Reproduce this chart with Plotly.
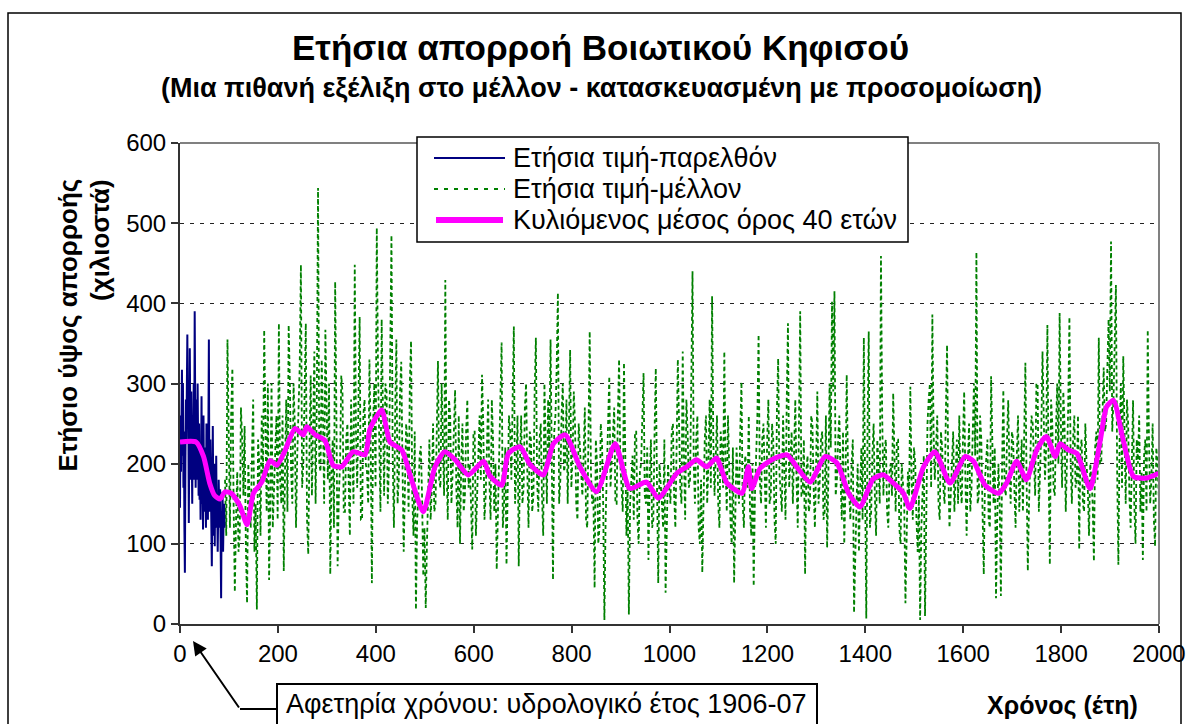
import plotly.graph_objects as go

# ---------------- data ----------------
past_values = [145, 260, 190, 290, 317, 210, 300, 170, 240, 120,
               64, 200, 280, 230, 320, 361, 250, 300, 126, 220,
               344, 260, 180, 290, 200, 150, 260, 210, 300, 180,
               390, 240, 170, 280, 200, 180, 300, 230, 160, 250,
               155, 210, 130, 190, 284, 150, 200, 118, 260, 170,
               140, 220, 180, 120, 250, 160, 200, 130, 300, 355,
               170, 140, 230, 180, 100, 72, 160, 247, 150, 110,
               200, 97, 180, 140, 210, 120, 160, 90, 130, 180,
               150, 120, 168, 100, 32, 140, 110, 165, 90, 130,
               150, 120]
past_years = list(range(0, len(past_values)))

# simulated future: values at years 92, 97, 102, ... (a) and 94.5, 99.5, ... (b)
future_values_a = [
    180, 355, 120, 319, 40, 190, 110, 230, 247, 26, 150, 210, 90, 18, 200, 260, 367, 140, 55, 300,
    170, 260, 375, 150, 66, 280, 373, 190, 300, 120, 260, 448, 200, 375, 87, 310, 230, 150, 544, 190,
    260, 367, 180, 62, 230, 427, 72, 200, 288, 140, 250, 110, 230, 448, 170, 383, 130, 280, 190, 330,
    51, 300, 494, 220, 380, 160, 290, 200, 485, 120, 355, 180, 327, 90, 250, 140, 353, 110, 18, 160,
    222, 60, 20, 180, 130, 250, 150, 328, 170, 240, 429, 130, 260, 190, 292, 120, 100, 250, 160, 280,
    200, 93, 240, 150, 260, 311, 130, 220, 180, 280, 140, 68, 200, 351, 150, 74, 260, 180, 371, 190,
    72, 260, 170, 300, 120, 230, 160, 357, 140, 250, 110, 200, 280, 355, 55, 260, 413, 180, 300, 200,
    150, 342, 210, 250, 130, 220, 160, 270, 120, 365, 150, 45, 200, 120, 230, 5, 180, 309, 200, 270,
    150, 330, 170, 326, 110, 12, 180, 130, 240, 100, 200, 313, 150, 80, 230, 130, 319, 51, 180, 120,
    39, 200, 150, 250, 120, 330, 170, 340, 130, 240, 180, 440, 150, 260, 100, 64, 230, 150, 280, 409,
    160, 260, 120, 220, 340, 140, 180, 100, 51, 220, 150, 302, 120, 200, 260, 110, 47, 200, 361, 150,
    250, 120, 280, 160, 230, 100, 331, 170, 260, 130, 375, 200, 150, 280, 120, 390, 160, 62, 210, 150,
    250, 120, 290, 180, 240, 140, 95, 300, 402, 415, 180, 260, 130, 100, 311, 160, 200, 14, 150, 90,
    220, 357, 7, 365, 140, 250, 110, 200, 459, 160, 230, 120, 200, 288, 140, 230, 100, 180, 26, 190,
    296, 130, 200, 90, 5, 180, 10, 250, 300, 386, 180, 260, 130, 220, 150, 348, 120, 200, 140, 230,
    260, 150, 290, 110, 250, 170, 300, 464, 160, 230, 62, 200, 130, 309, 150, 32, 200, 35, 292, 160,
    279, 150, 230, 120, 260, 180, 140, 326, 66, 200, 250, 160, 300, 200, 340, 180, 373, 74, 250, 160,
    300, 388, 170, 250, 200, 383, 150, 260, 180, 93, 230, 140, 200, 110, 180, 78, 240, 357, 200, 320,
    250, 380, 477, 280, 423, 74, 300, 334, 150, 250, 120, 279, 100, 200, 140, 80, 230, 367, 150, 250,
    97, 200]
future_values_b = [
    110, 200, 260, 150, 130, 90, 270, 160, 100, 200, 120, 280, 150, 230, 110, 180, 230, 300, 150, 120,
    240, 130, 180, 260, 190, 140, 300, 150, 250, 210, 320, 170, 290, 130, 220, 160, 340, 280, 200, 330,
    150, 240, 300, 190, 120, 260, 160, 310, 140, 230, 180, 280, 150, 240, 300, 130, 260, 200, 150, 230,
    250, 170, 320, 140, 260, 300, 150, 340, 210, 260, 150, 290, 200, 170, 230, 300, 160, 240, 130, 210,
    160, 120, 100, 230, 170, 140, 260, 180, 300, 160, 200, 280, 150, 230, 170, 260, 200, 140, 240, 170,
    150, 240, 110, 210, 180, 250, 160, 280, 130, 230, 200, 150, 270, 120, 220, 170, 240, 280, 150, 260,
    200, 150, 270, 190, 240, 140, 290, 180, 230, 160, 300, 150, 210, 170, 240, 320, 150, 260, 190, 280,
    240, 170, 290, 150, 250, 180, 210, 130, 240, 190, 160, 230, 100, 250, 150, 130, 260, 170, 240, 150,
    260, 200, 140, 230, 170, 150, 210, 240, 130, 190, 260, 160, 220, 180, 120, 240, 170, 200, 150, 230,
    130, 170, 240, 160, 220, 250, 150, 210, 280, 170, 300, 200, 230, 120, 180, 150, 260, 200, 170, 230,
    210, 150, 240, 170, 200, 260, 130, 220, 160, 180, 240, 150, 210, 170, 140, 200, 160, 260, 180, 230,
    180, 230, 150, 250, 130, 270, 190, 140, 210, 280, 170, 240, 220, 180, 250, 160, 230, 190, 140, 260,
    170, 200, 150, 230, 130, 260, 180, 220, 290, 160, 230, 180, 240, 170, 200, 130, 230, 100, 200, 170,
    130, 180, 240, 120, 210, 160, 230, 150, 260, 220, 140, 190, 160, 210, 230, 120, 200, 150, 120, 160,
    180, 220, 130, 160, 120, 210, 140, 280, 170, 240, 220, 150, 240, 170, 260, 190, 160, 240, 180, 150,
    170, 230, 180, 200, 140, 240, 210, 150, 260, 140, 180, 230, 120, 200, 220, 130, 150, 200, 170, 230,
    190, 240, 170, 210, 140, 230, 260, 180, 150, 260, 190, 300, 140, 240, 270, 220, 190, 280, 170, 240,
    200, 250, 290, 140, 270, 200, 230, 170, 260, 220, 150, 250, 170, 200, 150, 220, 180, 200, 270, 240,
    320, 290, 240, 350, 190, 230, 170, 240, 280, 160, 200, 150, 230, 260, 190, 210, 140, 230, 180, 130,
    220, 160]
future_start = 92
future_step = 5

future_years, future_values = [], []
for i, (va, vb) in enumerate(zip(future_values_a, future_values_b)):
    future_years += [future_start + future_step * i, future_start + future_step * i + future_step / 2]
    future_values += [va, vb]

ma_years = [0, 33, 48, 61, 71, 82, 92, 105, 122, 137, 150, 167, 184, 198, 215, 235, 252, 259, 276,
            296, 313, 330, 354, 378, 388, 412, 429, 453, 473, 497, 521, 541, 562, 589, 620, 633,
            657, 671, 695, 715, 742, 763, 787, 817, 851, 889, 919, 953, 977, 1015, 1035, 1055,
            1076, 1096, 1117, 1148, 1161, 1168, 1185, 1209, 1240, 1260, 1287, 1318, 1342, 1366,
            1389, 1416, 1437, 1457, 1478, 1491, 1519, 1542, 1573, 1604, 1621, 1645, 1672, 1689,
            1709, 1729, 1750, 1770, 1788, 1798, 1815, 1832, 1859, 1880, 1893, 1907, 1927, 1948,
            1975, 1999]
ma_values = [227, 227, 209, 175, 160, 156, 165, 163, 148, 124, 163, 177, 204, 198, 217, 244, 236, 246, 236,
             229, 198, 196, 215, 211, 243, 267, 227, 217, 180, 140, 196, 215, 205, 186, 203, 185,
             173, 213, 221, 199, 186, 225, 236, 196, 165, 225, 169, 177, 157, 188, 196, 205,
             196, 207, 176, 163, 196, 169, 194, 205, 211, 196, 177, 209, 201, 163,
             146, 181, 186, 176, 163, 144, 196, 215, 176, 209, 203, 173, 163, 176,
             203, 180, 217, 234, 209, 225, 217, 213, 169, 229, 271, 279, 229, 184,
             182, 188]

x_ticks = [0, 200, 400, 600, 800, 1000, 1200, 1400, 1600, 1800, 2000]
y_ticks = [0, 100, 200, 300, 400, 500, 600]

legend_labels = ["Ετήσια τιμή-παρελθόν", "Ετήσια τιμή-μέλλον", "Κυλιόμενος μέσος όρος 40 ετών"]
title_text = "Ετήσια απορροή Βοιωτικού Κηφισού"
subtitle_text = "(Μια πιθανή εξέλιξη στο μέλλον - κατασκευασμένη με προσομοίωση)"
ytitle_1 = "Ετήσιο ύψος απορροής"
ytitle_2 = "(χιλιοστά)"
xtitle = "Χρόνος (έτη)"
note_text = "Αφετηρία χρόνου: υδρολογικό έτος 1906-07"

# ---------------- layout geometry ----------------
W, H = 1189, 724
L, R, T, B = 180, 1159, 143, 624
FONT = "Liberation Sans, Arial, sans-serif"

def px(x):
    return (x - L) / (R - L)

def py(y):
    return (B - y) / (B - T)

BLUE = "#000080"
GREEN = "#008000"
MAGENTA = "#FF00FF"

fig = go.Figure()
fig.add_trace(go.Scatter(x=future_years, y=future_values, mode="lines", name=legend_labels[1],
                         line=dict(color=GREEN, width=1.8, dash="4px,3px"), showlegend=False))
fig.add_trace(go.Scatter(x=past_years, y=past_values, mode="lines", name=legend_labels[0],
                         line=dict(color=BLUE, width=2), showlegend=False))
fig.add_trace(go.Scatter(x=ma_years, y=ma_values, mode="lines", name=legend_labels[2],
                         line=dict(color=MAGENTA, width=5, shape="spline", smoothing=0.6), showlegend=False))

fig.update_layout(
    width=W, height=H, autosize=False,
    margin=dict(l=L, r=W - R, t=T, b=H - B, autoexpand=False),
    paper_bgcolor="white", plot_bgcolor="white",
    font=dict(family=FONT, color="black"),
    showlegend=False,
    xaxis=dict(range=[0, 2000], tickvals=x_ticks, ticktext=[str(v) for v in x_ticks],
               ticks="outside", ticklen=7, tickwidth=1.5, tickcolor="#333",
               showline=True, linecolor="#333", linewidth=2, showgrid=False, zeroline=False,
               tickfont=dict(size=24, family=FONT, color="black")),
    yaxis=dict(range=[0, 600], tickvals=y_ticks, ticktext=[str(v) for v in y_ticks],
               ticks="outside", ticklen=7, tickwidth=1.5, tickcolor="#333",
               showline=True, linecolor="#333", linewidth=2, zeroline=False,
               showgrid=True, gridcolor="#222", gridwidth=1, griddash="4px,6px",
               tickfont=dict(size=24, family=FONT, color="black")),
)

shapes = []
# outer chart border
shapes.append(dict(type="rect", xref="paper", yref="paper", x0=px(8), x1=px(1181), y0=py(745), y1=py(13),
                   line=dict(color="black", width=1.5), layer="below"))
# plot area border (top and right, grey)
shapes.append(dict(type="line", xref="paper", yref="paper", x0=0, x1=1, y0=1, y1=1,
                   line=dict(color="#808080", width=2), layer="above"))
shapes.append(dict(type="line", xref="paper", yref="paper", x0=1, x1=1, y0=0, y1=1,
                   line=dict(color="#808080", width=2), layer="above"))
# legend box
shapes.append(dict(type="rect", xref="paper", yref="paper", x0=px(417), x1=px(908), y0=py(242), y1=py(137),
                   fillcolor="white", line=dict(color="black", width=1.5), layer="above"))
leg_rows = [158, 189, 220]
shapes.append(dict(type="line", xref="paper", yref="paper", x0=px(434), x1=px(505), y0=py(leg_rows[0]), y1=py(leg_rows[0]),
                   line=dict(color=BLUE, width=2), layer="above"))
shapes.append(dict(type="line", xref="paper", yref="paper", x0=px(434), x1=px(505), y0=py(leg_rows[1]), y1=py(leg_rows[1]),
                   line=dict(color=GREEN, width=2, dash="4px,6px"), layer="above"))
shapes.append(dict(type="line", xref="paper", yref="paper", x0=px(436), x1=px(503), y0=py(leg_rows[2]), y1=py(leg_rows[2]),
                   line=dict(color=MAGENTA, width=6), layer="above"))
# note box
shapes.append(dict(type="rect", xref="paper", yref="paper", x0=px(277), x1=px(817), y0=py(745), y1=py(684),
                   fillcolor="white", line=dict(color="black", width=2), layer="above"))
# elbow of the arrow
shapes.append(dict(type="line", xref="paper", yref="paper", x0=px(240), x1=px(277), y0=py(709), y1=py(709),
                   line=dict(color="black", width=2), layer="above"))
fig.update_layout(shapes=shapes)

ann = []
ann.append(dict(text="<b>" + title_text + "</b>", x=px(600), y=py(47), xref="paper", yref="paper",
                showarrow=False, xanchor="center", yanchor="middle", font=dict(size=35, family=FONT)))
ann.append(dict(text="<b>" + subtitle_text + "</b>", x=px(601), y=py(88), xref="paper", yref="paper",
                showarrow=False, xanchor="center", yanchor="middle", font=dict(size=27, family=FONT)))
ann.append(dict(text="<b>" + ytitle_1 + "</b>", x=px(67), y=py(177), xref="paper", yref="paper", textangle=-90,
                showarrow=False, xanchor="center", yanchor="top", font=dict(size=26, family=FONT)))
ann.append(dict(text="<b>" + ytitle_2 + "</b>", x=px(100), y=py(177), xref="paper", yref="paper", textangle=-90,
                showarrow=False, xanchor="center", yanchor="top", font=dict(size=26, family=FONT)))
ann.append(dict(text="<b>" + xtitle + "</b>", x=px(1062), y=py(705), xref="paper", yref="paper",
                showarrow=False, xanchor="center", yanchor="middle", font=dict(size=25, family=FONT)))
ann.append(dict(text=note_text, x=px(546), y=py(704), xref="paper", yref="paper",
                showarrow=False, xanchor="center", yanchor="middle", font=dict(size=27, family=FONT)))
for row, lab in zip(leg_rows, legend_labels):
    ann.append(dict(text=lab, x=px(511), y=py(row), xref="paper", yref="paper",
                    showarrow=False, xanchor="left", yanchor="middle", font=dict(size=27, family=FONT)))
# arrow pointing at the time origin
ann.append(dict(text="", x=px(193), y=py(641), xref="paper", yref="paper", showarrow=True,
                ax=47, ay=68, arrowhead=2, arrowsize=1.4, arrowwidth=2, arrowcolor="black", standoff=0))
fig.update_layout(annotations=ann)

fig.write_html("out.html", config=dict(displayModeBar=False, responsive=False),
               post_script="document.body.style.margin='0';document.body.style.padding='0';")
